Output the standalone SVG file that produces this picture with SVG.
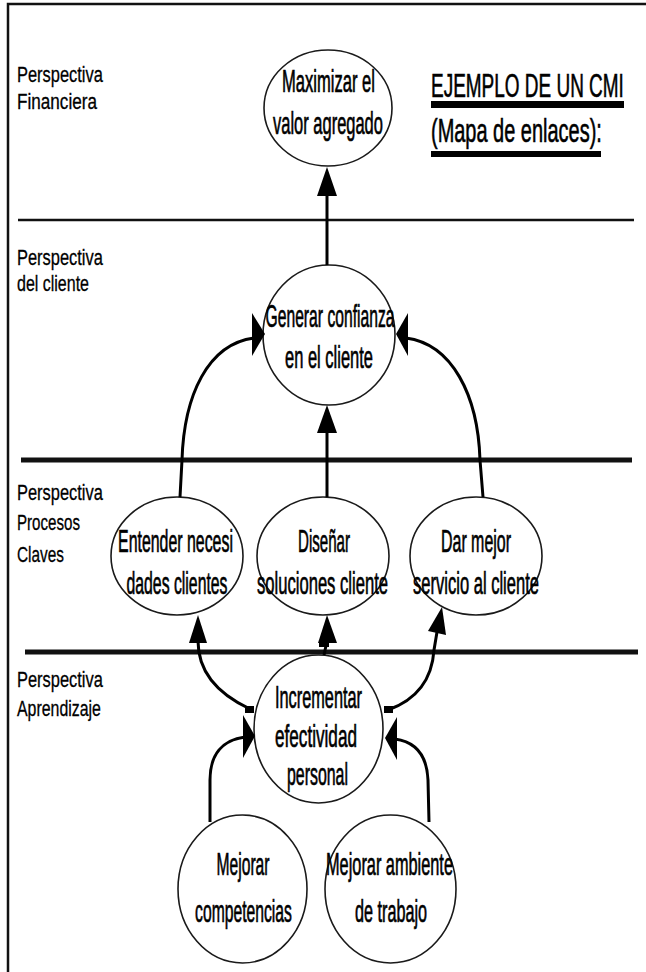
<svg xmlns="http://www.w3.org/2000/svg" width="646" height="972" viewBox="0 0 646 972">
  <style>
    .frame { fill: none; stroke: #111; stroke-width: 2.5; }
    .rule { stroke: #111; }
    .node ellipse { fill: #fff; stroke: #1a1a1a; stroke-width: 1.6; }
    .t { font-family: "Liberation Sans", Arial, sans-serif; font-size: 32px; fill: #000; stroke: #000; stroke-width: 0.7; text-anchor: middle; }
    .lbl { font-family: "Liberation Sans", Arial, sans-serif; font-size: 22px; fill: #000; stroke: #000; stroke-width: 0.3; }
    .title { font-family: "Liberation Sans", Arial, sans-serif; font-size: 33px; fill: #000; stroke: #000; stroke-width: 0.6; }
    .conn path, .conn line { fill: none; stroke: #000; stroke-width: 3; }
    .conn polygon, .conn rect { fill: #000; stroke: none; }
  </style>

  <rect width="646" height="972" fill="#fff"/>

  <!-- frame and perspective separators -->
  <g id="frame">
    <polyline class="frame" points="8,972 8,4 646,4"/>
    <line class="rule" x1="18" y1="220" x2="634" y2="220" stroke-width="2.5"/>
    <line class="rule" x1="21" y1="460" x2="632" y2="460" stroke-width="5"/>
    <line class="rule" x1="25" y1="652" x2="638" y2="652" stroke-width="5"/>
  </g>

  <!-- perspective labels (narrow lettering: horizontal scale only) -->
  <g id="labels">
    <text class="lbl" transform="translate(17,82) scale(0.748,1)">Perspectiva</text>
    <text class="lbl" transform="translate(17,109) scale(0.779,1)">Financiera</text>
    <text class="lbl" transform="translate(17,265) scale(0.748,1)">Perspectiva</text>
    <text class="lbl" transform="translate(17,291) scale(0.727,1)">del cliente</text>
    <text class="lbl" transform="translate(17,500) scale(0.748,1)">Perspectiva</text>
    <text class="lbl" transform="translate(17,530) scale(0.687,1)">Procesos</text>
    <text class="lbl" transform="translate(17,562) scale(0.699,1)">Claves</text>
    <text class="lbl" transform="translate(17,687) scale(0.748,1)">Perspectiva</text>
    <text class="lbl" transform="translate(17,716) scale(0.723,1)">Aprendizaje</text>
  </g>

  <!-- heading -->
  <g id="heading">
    <text class="title" transform="translate(431,97) scale(0.575,1)">EJEMPLO DE UN CMI</text>
    <rect x="431" y="101" width="193" height="7" fill="#000"/>
    <text class="title" transform="translate(431,142) scale(0.605,1)">(Mapa de enlaces):</text>
    <rect x="431" y="151" width="170" height="6" fill="#000"/>
  </g>

  <!-- objectives -->
  <g id="maximizar" class="node">
    <ellipse cx="328" cy="108" rx="64" ry="58"/>
    <text class="t" transform="translate(328.5,92) scale(0.518,1)">Maximizar el</text>
    <text class="t" transform="translate(328,134) scale(0.515,1)">valor agregado</text>
  </g>

  <g id="generar" class="node">
    <ellipse cx="329" cy="335" rx="66" ry="70"/>
    <text class="t" transform="translate(330,327) scale(0.49,1)">Generar confianza</text>
    <text class="t" transform="translate(329,368) scale(0.515,1)">en el cliente</text>
  </g>

  <g id="entender" class="node">
    <ellipse cx="177" cy="556" rx="66" ry="59"/>
    <text class="t" transform="translate(175.5,552) scale(0.497,1)">Entender necesi</text>
    <text class="t" transform="translate(177,594) scale(0.494,1)">dades clientes</text>
  </g>

  <g id="disenar" class="node">
    <ellipse cx="323" cy="556" rx="66" ry="59"/>
    <text class="t" transform="translate(324,552) scale(0.472,1)">Diseñar</text>
    <text class="t" transform="translate(322.5,594) scale(0.519,1)">soluciones cliente</text>
  </g>

  <g id="dar-mejor" class="node">
    <ellipse cx="476" cy="556" rx="66" ry="59"/>
    <text class="t" transform="translate(476,552) scale(0.499,1)">Dar mejor</text>
    <text class="t" transform="translate(476,594) scale(0.517,1)">servicio al cliente</text>
  </g>

  <g id="incrementar" class="node">
    <ellipse cx="318.5" cy="729" rx="64.5" ry="74"/>
    <text class="t" transform="translate(318.5,708) scale(0.51,1)">Incrementar</text>
    <text class="t" transform="translate(316,747) scale(0.536,1)">efectividad</text>
    <text class="t" transform="translate(317.5,785) scale(0.497,1)">personal</text>
  </g>

  <g id="competencias" class="node">
    <ellipse cx="242.5" cy="889" rx="64.5" ry="74"/>
    <text class="t" transform="translate(243,875) scale(0.489,1)">Mejorar</text>
    <text class="t" transform="translate(243.5,922) scale(0.491,1)">competencias</text>
  </g>

  <g id="ambiente" class="node">
    <ellipse cx="390.5" cy="889" rx="65.5" ry="74"/>
    <text class="t" transform="translate(389.5,875) scale(0.51,1)">Mejorar ambiente</text>
    <text class="t" transform="translate(391,922) scale(0.506,1)">de trabajo</text>
  </g>

  <!-- cause-effect links -->
  <g id="connectors" class="conn">
    <!-- generar -> maximizar -->
    <line x1="327" y1="265" x2="327" y2="194"/>
    <polygon points="327,167 317,196 337,196"/>

    <!-- disenar -> generar -->
    <line x1="327" y1="497" x2="327" y2="431"/>
    <polygon points="327,405 317,433 337,433"/>

    <!-- entender -> generar -->
    <path d="M180,497 L182,460 C184,395 208,344 254,338"/>
    <polygon points="265,334 252,313 252,356"/>

    <!-- dar mejor -> generar -->
    <path d="M483,497 L480,460 C478,395 452,344 406,338"/>
    <polygon points="396,334 408,313 408,356"/>

    <!-- incrementar -> entender -->
    <path d="M250,709 C218,694 198,672 198,641"/>
    <polygon points="198,615 189,643 207,643"/>
    <rect x="245" y="706" width="9" height="7"/>

    <!-- incrementar -> disenar -->
    <line x1="324" y1="655" x2="327" y2="641"/>
    <polygon points="327,615 318,643 337,643"/>
    <rect x="319" y="640" width="10" height="7"/>

    <!-- incrementar -> dar mejor -->
    <path d="M388,710 C416,700 432,680 434,650 L437,632"/>
    <polygon points="442,607 428,631 446,635"/>
    <rect x="384" y="706" width="9" height="7"/>

    <!-- competencias -> incrementar -->
    <path d="M210,822 L210,780 C210,755 222,740 245,737"/>
    <polygon points="255,736 243,715 243,758"/>

    <!-- ambiente -> incrementar -->
    <path d="M429,822 L428,780 C427,757 417,742 395,739"/>
    <polygon points="385,738 397,717 397,760"/>
  </g>
</svg>
